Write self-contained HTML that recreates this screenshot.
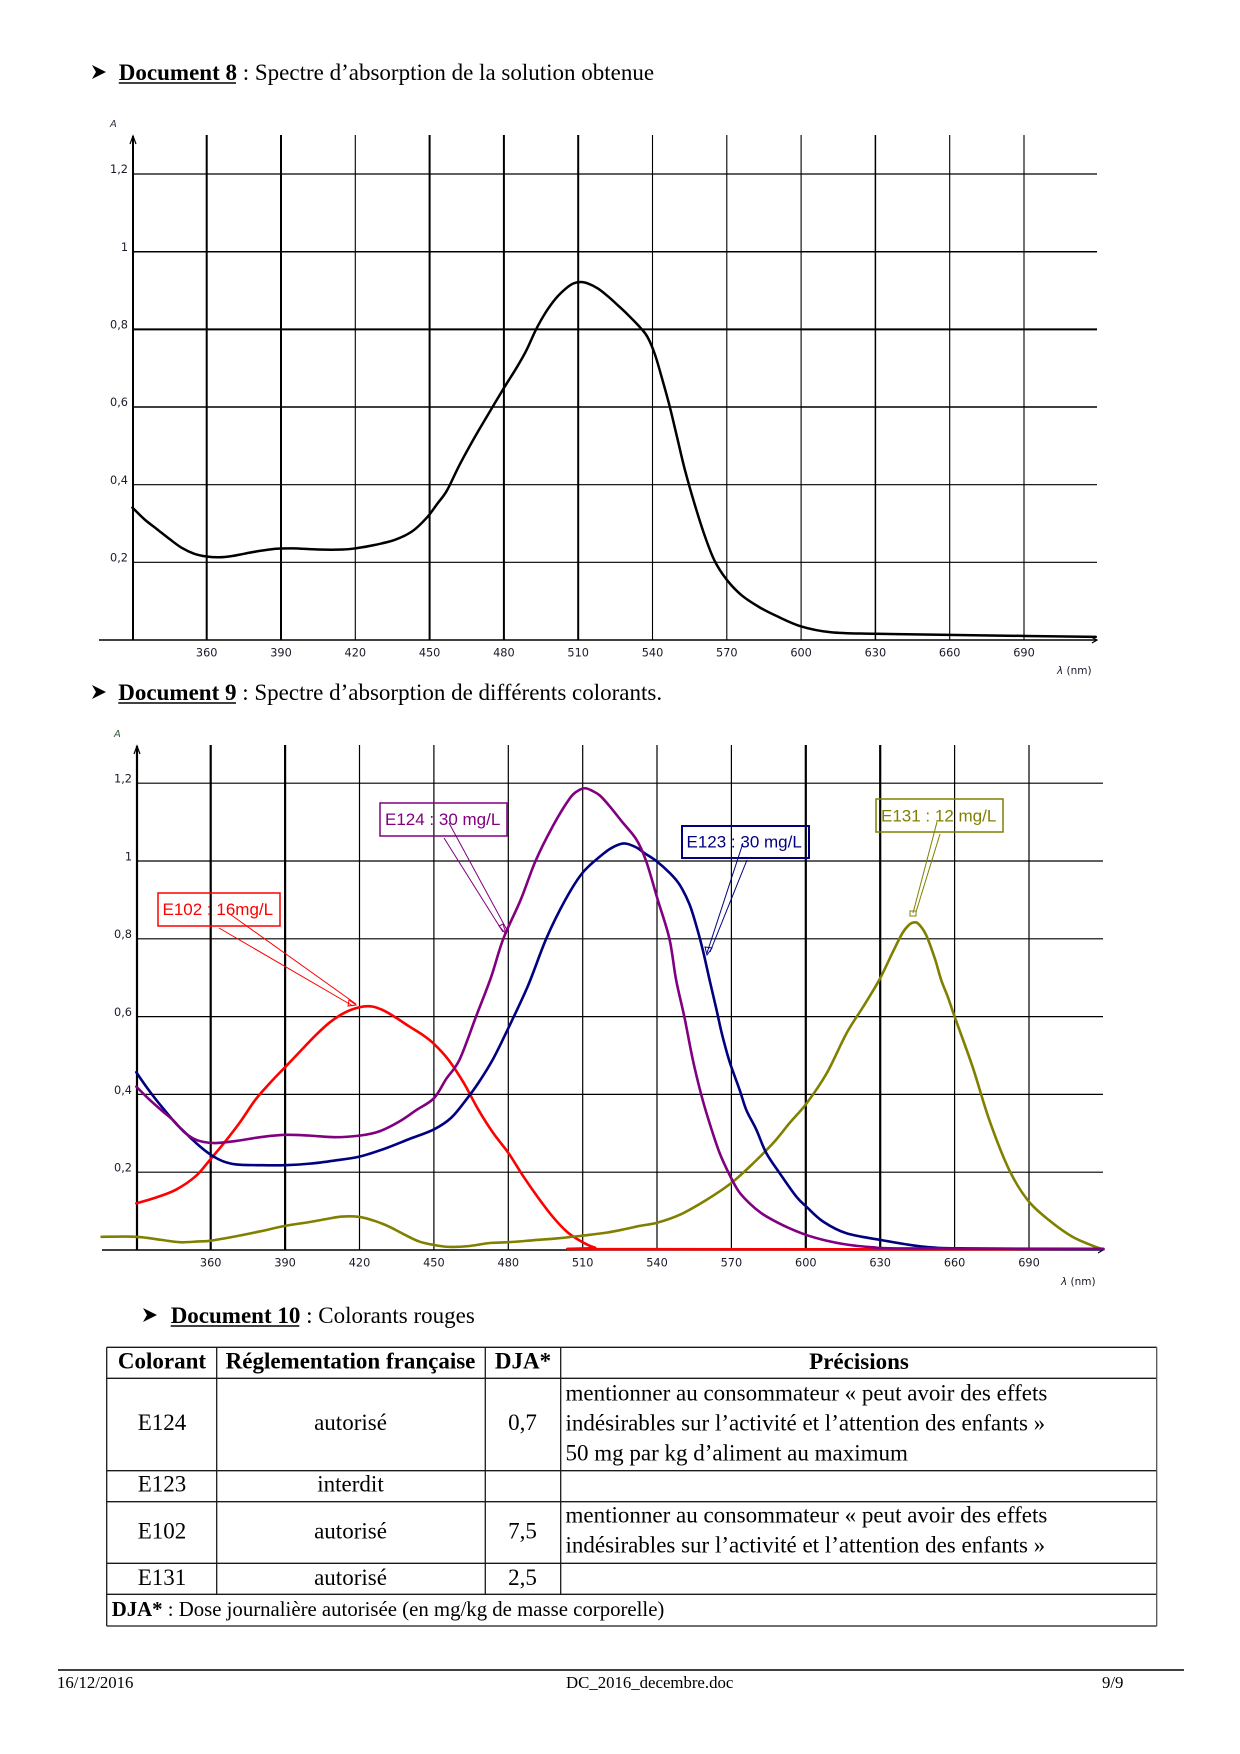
<!DOCTYPE html>
<html><head><meta charset="utf-8"><style>
html,body{margin:0;padding:0;background:#fff;}
svg{display:block;}
.serif{font-family:"Liberation Serif","Times New Roman",serif;}
.tick{font-family:"DejaVu Sans","Liberation Sans",sans-serif;font-size:11.3px;fill:#1a1a2a;}
.lab{font-family:"Liberation Sans",sans-serif;font-size:17px;}
</style></head><body>
<svg width="1240" height="1754" viewBox="0 0 1240 1754" xmlns="http://www.w3.org/2000/svg">
<rect width="1240" height="1754" fill="#fff"/>

<!-- ===== Heading Document 8 ===== -->
<polygon points="92,65 106,72 92,79 96,72" fill="#000"/>
<text class="serif" x="118.8" y="80" font-size="23" fill="#000"><tspan font-weight="bold">Document 8</tspan><tspan> : Spectre d’absorption de la solution obtenue</tspan></text>
<line x1="118.8" y1="83" x2="236" y2="83" stroke="#000" stroke-width="1.5"/>

<!-- ===== Chart 1 ===== -->
<g stroke="#000" fill="none">
  <line x1="133" y1="174" x2="1097" y2="174" stroke-width="1.2"/>
  <line x1="133" y1="251.7" x2="1097" y2="251.7" stroke-width="1.5"/>
  <line x1="133" y1="329.4" x2="1097" y2="329.4" stroke-width="2"/>
  <line x1="133" y1="407" x2="1097" y2="407" stroke-width="1.5"/>
  <line x1="133" y1="484.7" x2="1097" y2="484.7" stroke-width="1.1"/>
  <line x1="133" y1="562.3" x2="1097" y2="562.3" stroke-width="1.1"/>
  <line x1="206.7" y1="135" x2="206.7" y2="640" stroke-width="2"/>
  <line x1="281" y1="135" x2="281" y2="640" stroke-width="2"/>
  <line x1="355.3" y1="135" x2="355.3" y2="640" stroke-width="1.1"/>
  <line x1="429.6" y1="135" x2="429.6" y2="640" stroke-width="2"/>
  <line x1="503.9" y1="135" x2="503.9" y2="640" stroke-width="2"/>
  <line x1="578.2" y1="135" x2="578.2" y2="640" stroke-width="2"/>
  <line x1="652.5" y1="135" x2="652.5" y2="640" stroke-width="1.1"/>
  <line x1="726.8" y1="135" x2="726.8" y2="640" stroke-width="1.1"/>
  <line x1="801.1" y1="135" x2="801.1" y2="640" stroke-width="1.1"/>
  <line x1="875.4" y1="135" x2="875.4" y2="640" stroke-width="1.5"/>
  <line x1="949.7" y1="135" x2="949.7" y2="640" stroke-width="1.1"/>
  <line x1="1024" y1="135" x2="1024" y2="640" stroke-width="1.1"/>
  <line x1="133" y1="136" x2="133" y2="640" stroke-width="2"/>
  <line x1="99" y1="640" x2="1097" y2="640" stroke-width="1.4"/>
  <polyline points="130,144 133,136 136,144" stroke-width="1.2"/>
  <polyline points="1091,637 1097,640 1092,643" stroke-width="1.2"/>
</g>
<text x="110" y="127" font-family="DejaVu Sans,sans-serif" font-size="10" font-style="italic" fill="#334">A</text>
<g class="tick" text-anchor="end">
  <text x="128" y="173">1,2</text>
  <text x="128" y="251">1</text>
  <text x="128" y="328.5">0,8</text>
  <text x="128" y="406">0,6</text>
  <text x="128" y="484">0,4</text>
  <text x="128" y="561.5">0,2</text>
</g>
<g class="tick" text-anchor="middle">
  <text x="206.7" y="656.5">360</text><text x="281" y="656.5">390</text><text x="355.3" y="656.5">420</text>
  <text x="429.6" y="656.5">450</text><text x="503.9" y="656.5">480</text><text x="578.2" y="656.5">510</text>
  <text x="652.5" y="656.5">540</text><text x="726.8" y="656.5">570</text><text x="801.1" y="656.5">600</text>
  <text x="875.4" y="656.5">630</text><text x="949.7" y="656.5">660</text><text x="1024" y="656.5">690</text>
</g>
<text x="1057" y="674" font-family="DejaVu Sans,sans-serif" font-size="10.5" fill="#1a1a2a"><tspan font-style="italic">λ</tspan>  (nm)</text>
<g transform="translate(-684.9,640) scale(2.4767,-388.3)">
<polyline class="sm" vector-effect="non-scaling-stroke" fill="none" stroke="#000" stroke-width="2.5" stroke-linejoin="round" stroke-linecap="round"
points="330,0.341 335,0.31 340,0.285 345,0.26 350,0.237 355,0.222 360,0.215 365,0.213 370,0.216 375,0.222 380,0.228 388,0.235 395,0.236 405,0.233 415,0.233 420,0.236 428,0.245 436,0.258 443,0.28 449,0.316 453,0.35 457,0.385 462,0.45 468,0.52 474,0.585 480,0.649 485,0.70 489,0.745 493,0.80 497,0.845 501,0.88 505,0.905 508,0.918 511,0.922 514,0.918 518,0.905 522,0.885 526,0.862 530,0.838 535,0.805 538,0.78 541,0.735 544,0.67 547,0.6 550,0.52 553,0.44 557,0.35 561,0.27 565,0.205 570,0.155 576,0.115 583,0.085 590,0.062 600,0.035 612,0.02 630,0.016 673,0.012 719,0.008"/>
</g>

<!-- ===== Heading Document 9 ===== -->
<polygon points="92,685 106,692 92,699 96,692" fill="#000"/>
<text class="serif" x="118.3" y="700" font-size="23" fill="#000"><tspan font-weight="bold">Document 9</tspan><tspan> : Spectre d’absorption de différents colorants.</tspan></text>
<line x1="118.3" y1="703" x2="236" y2="703" stroke="#000" stroke-width="1.5"/>

<!-- ===== Chart 2 ===== -->
<g stroke="#000" fill="none">
  <line x1="137" y1="783.2" x2="1103" y2="783.2" stroke-width="1.2"/>
  <line x1="137" y1="861" x2="1103" y2="861" stroke-width="1.2"/>
  <line x1="137" y1="938.8" x2="1103" y2="938.8" stroke-width="1.2"/>
  <line x1="137" y1="1016.6" x2="1103" y2="1016.6" stroke-width="1.2"/>
  <line x1="137" y1="1094.4" x2="1103" y2="1094.4" stroke-width="1.2"/>
  <line x1="137" y1="1172.2" x2="1103" y2="1172.2" stroke-width="1.2"/>
  <line x1="210.7" y1="745" x2="210.7" y2="1250" stroke-width="2.2"/>
  <line x1="285.1" y1="745" x2="285.1" y2="1250" stroke-width="2.2"/>
  <line x1="359.5" y1="745" x2="359.5" y2="1250" stroke-width="1.2"/>
  <line x1="433.9" y1="745" x2="433.9" y2="1250" stroke-width="1.2"/>
  <line x1="508.3" y1="745" x2="508.3" y2="1250" stroke-width="1.2"/>
  <line x1="582.7" y1="745" x2="582.7" y2="1250" stroke-width="1.2"/>
  <line x1="657" y1="745" x2="657" y2="1250" stroke-width="1.2"/>
  <line x1="731.4" y1="745" x2="731.4" y2="1250" stroke-width="1.2"/>
  <line x1="805.8" y1="745" x2="805.8" y2="1250" stroke-width="2.2"/>
  <line x1="880.2" y1="745" x2="880.2" y2="1250" stroke-width="2.2"/>
  <line x1="954.6" y1="745" x2="954.6" y2="1250" stroke-width="1.2"/>
  <line x1="1029" y1="745" x2="1029" y2="1250" stroke-width="1.2"/>
  <line x1="137" y1="746" x2="137" y2="1250" stroke-width="2.2"/>
  <line x1="102" y1="1250" x2="1103" y2="1250" stroke-width="1.4"/>
  <polyline points="134,754 137,746 140,754" stroke-width="1.2"/>
  <polyline points="1097,1247 1103,1250 1098,1253" stroke-width="1.2"/>
</g>
<text x="114" y="737" font-family="DejaVu Sans,sans-serif" font-size="10" font-style="italic" fill="#2a5a3a">A</text>
<g class="tick" text-anchor="end">
  <text x="132" y="782.5">1,2</text>
  <text x="132" y="860.5">1</text>
  <text x="132" y="938">0,8</text>
  <text x="132" y="1016">0,6</text>
  <text x="132" y="1094">0,4</text>
  <text x="132" y="1171.5">0,2</text>
</g>
<g class="tick" text-anchor="middle">
  <text x="210.7" y="1266.5">360</text><text x="285.1" y="1266.5">390</text><text x="359.5" y="1266.5">420</text>
  <text x="433.9" y="1266.5">450</text><text x="508.3" y="1266.5">480</text><text x="582.7" y="1266.5">510</text>
  <text x="657" y="1266.5">540</text><text x="731.4" y="1266.5">570</text><text x="805.8" y="1266.5">600</text>
  <text x="880.2" y="1266.5">630</text><text x="954.6" y="1266.5">660</text><text x="1029" y="1266.5">690</text>
</g>
<text x="1061" y="1285" font-family="DejaVu Sans,sans-serif" font-size="10.5" fill="#1a1a2a"><tspan font-style="italic">λ</tspan>  (nm)</text>

<g transform="translate(-682,1250) scale(2.4797,-389)" fill="none" stroke-width="2.6" stroke-linejoin="round" stroke-linecap="round">
<polyline class="sm" vector-effect="non-scaling-stroke" stroke="#ff0000"
points="330,0.12 338,0.135 346,0.155 354,0.19 360,0.234 366,0.28 372,0.33 378,0.386 384,0.43 390,0.47 396,0.51 402,0.55 408,0.585 414,0.61 420,0.624 425,0.626 430,0.615 435,0.596 440,0.575 445,0.555 450,0.53 456,0.488 462,0.43 468,0.36 474,0.30 480,0.25 486,0.19 492,0.135 498,0.085 504,0.045 510,0.02 515,0.006 520,0.002 720,0.002"/>
<polyline class="sm" vector-effect="non-scaling-stroke" stroke="#808000"
points="316,0.034 330,0.034 340,0.026 347.5,0.02 355,0.022 360,0.024 370,0.035 380,0.048 390,0.062 400,0.072 407,0.08 413,0.086 420,0.085 426,0.075 432,0.06 438,0.04 444,0.022 450,0.013 456,0.008 464,0.01 472.5,0.018 480,0.02 490,0.025 500,0.03 510,0.037 520,0.045 528,0.055 533,0.062 540,0.07 549,0.09 559.7,0.128 569.5,0.17 577.3,0.214 586.7,0.274 593.4,0.326 600.3,0.377 608.4,0.454 616.4,0.557 623.1,0.625 629.6,0.694 635,0.765 639,0.815 641.5,0.835 643.5,0.842 645.5,0.838 648.5,0.81 652,0.75 654.6,0.694 657.3,0.65 660,0.60 667.3,0.47 674,0.334 682,0.206 689.5,0.128 698,0.077 707.5,0.034 716.7,0.0085 720,0.002"/>
<polyline class="sm" vector-effect="non-scaling-stroke" stroke="#000080"
points="330,0.457 334,0.42 338,0.386 342,0.355 346,0.325 350,0.30 355,0.27 360,0.245 365,0.228 370.3,0.22 380,0.218 390,0.218 400,0.222 410,0.23 420,0.24 430,0.26 440,0.285 450,0.31 457,0.34 463,0.386 468,0.43 473.8,0.49 480,0.57 488,0.68 495.3,0.80 503,0.90 510,0.97 518.6,1.02 523,1.038 527,1.045 531.6,1.035 535,1.02 539.7,1.0 545,0.97 549,0.94 553,0.89 556,0.83 558.5,0.77 561.2,0.694 563.9,0.62 566,0.56 568.5,0.50 570,0.47 573.4,0.41 576,0.36 580,0.31 584,0.25 589.5,0.197 596.2,0.137 600.3,0.111 607,0.073 616.4,0.043 630,0.026 647.5,0.0085 665,0.004 720,0.002"/>
<polyline class="sm" vector-effect="non-scaling-stroke" stroke="#800080"
points="330,0.42 335.4,0.386 340,0.36 344.8,0.334 349,0.305 352.9,0.287 357,0.278 362,0.275 370,0.28 380,0.29 390,0.296 400,0.294 410,0.29 420,0.294 428,0.305 436,0.33 443,0.36 450,0.39 455,0.44 460.4,0.49 467,0.60 473,0.70 478,0.80 485,0.90 491,1.0 498,1.09 504.7,1.16 508,1.18 511,1.187 514,1.18 517,1.168 521,1.14 526,1.10 531.6,1.056 535.6,1.0 540.3,0.90 545,0.80 547.7,0.694 551,0.60 554.4,0.49 557.8,0.40 561,0.33 565.2,0.25 569.5,0.19 573,0.15 577.3,0.12 582,0.095 586.7,0.077 593,0.057 600,0.039 607,0.026 613.6,0.017 620,0.011 627,0.007 640,0.004 720,0.003"/>
</g>

<!-- annotations -->
<g fill="none" stroke-width="1">
  <line x1="227" y1="912" x2="356" y2="1004" stroke="#ff0000"/>
  <line x1="219" y1="928" x2="353" y2="1006" stroke="#ff0000"/>
  <polygon points="349,1000 356,1005 348,1006" stroke="#ff0000"/>
  <line x1="449" y1="823" x2="507" y2="930" stroke="#800080"/>
  <line x1="444" y1="838" x2="503" y2="932" stroke="#800080"/>
  <polygon points="499,926 506,934 503,924" stroke="#800080"/>
  <line x1="743" y1="843" x2="707" y2="953" stroke="#000080"/>
  <line x1="747" y1="860" x2="710" y2="952" stroke="#000080"/>
  <polygon points="705,947 707,955 712,948" stroke="#000080"/>
  <line x1="937" y1="822" x2="913" y2="913" stroke="#808000"/>
  <line x1="940" y1="834" x2="916" y2="912" stroke="#808000"/>
  <rect x="910" y="911" width="6" height="5" stroke="#808000"/>
</g>
<rect x="158" y="893" width="122" height="33" fill="none" stroke="#ff0000" stroke-width="1.5"/>
<text class="lab" x="162.5" y="915" fill="#ff0000">E102 : 16mg/L</text>
<rect x="380" y="803" width="127" height="33" fill="none" stroke="#800080" stroke-width="1.5"/>
<text class="lab" x="385" y="825" fill="#800080">E124 : 30 mg/L</text>
<rect x="682" y="826" width="127" height="32" fill="none" stroke="#000080" stroke-width="2"/>
<text class="lab" x="686.5" y="847.5" fill="#000080">E123 : 30 mg/L</text>
<rect x="876" y="799" width="127" height="33" fill="none" stroke="#808000" stroke-width="1.5"/>
<text class="lab" x="881" y="821.5" fill="#808000">E131 : 12 mg/L</text>

<!-- ===== Heading Document 10 ===== -->
<polygon points="143,1308 157,1315 143,1322 147,1315" fill="#000"/>
<text class="serif" x="170.7" y="1323" font-size="23" fill="#000"><tspan font-weight="bold">Document 10</tspan><tspan> : Colorants rouges</tspan></text>
<line x1="170.7" y1="1326" x2="299.3" y2="1326" stroke="#000" stroke-width="1.5"/>

<!-- ===== Table ===== -->
<g stroke="#1a1a1a" stroke-width="1.3" fill="none">
  <line x1="106.7" y1="1347.3" x2="1156.7" y2="1347.3"/>
  <line x1="106.7" y1="1378.3" x2="1156.7" y2="1378.3"/>
  <line x1="106.7" y1="1470.7" x2="1156.7" y2="1470.7"/>
  <line x1="106.7" y1="1501.7" x2="1156.7" y2="1501.7"/>
  <line x1="106.7" y1="1563.3" x2="1156.7" y2="1563.3"/>
  <line x1="106.7" y1="1594.3" x2="1156.7" y2="1594.3"/>
  <line x1="106.7" y1="1626" x2="1156.7" y2="1626"/>
  <line x1="106.7" y1="1347.3" x2="106.7" y2="1626"/>
  <line x1="216.7" y1="1347.3" x2="216.7" y2="1594.3"/>
  <line x1="485.3" y1="1347.3" x2="485.3" y2="1594.3"/>
  <line x1="560.7" y1="1347.3" x2="560.7" y2="1594.3"/>
  <line x1="1156.7" y1="1347.3" x2="1156.7" y2="1626" stroke="#555"/>
</g>
<g class="serif" font-size="23" fill="#000">
  <g font-weight="bold" text-anchor="middle">
    <text x="162" y="1368.5">Colorant</text>
    <text x="350.5" y="1368.5">Réglementation française</text>
    <text x="523" y="1368.5">DJA*</text>
    <text x="859" y="1369">Précisions</text>
  </g>
  <g text-anchor="middle">
    <text x="162" y="1430">E124</text>
    <text x="350.5" y="1430">autorisé</text>
    <text x="522.5" y="1430">0,7</text>
    <text x="162" y="1491.7">E123</text>
    <text x="350.5" y="1491.7">interdit</text>
    <text x="162" y="1538.3">E102</text>
    <text x="350.5" y="1538.3">autorisé</text>
    <text x="522.5" y="1538.3">7,5</text>
    <text x="162" y="1585">E131</text>
    <text x="350.5" y="1585">autorisé</text>
    <text x="522.5" y="1585">2,5</text>
  </g>
  <text x="565.5" y="1400.5">mentionner au consommateur « peut avoir des effets</text>
  <text x="565.5" y="1430.5">indésirables sur l’activité et l’attention des enfants »</text>
  <text x="565.5" y="1460.5">50 mg par kg d’aliment au maximum</text>
  <text x="565.5" y="1522.5">mentionner au consommateur « peut avoir des effets</text>
  <text x="565.5" y="1552.5">indésirables sur l’activité et l’attention des enfants »</text>
  <text x="111.7" y="1616" font-size="20.8"><tspan font-weight="bold">DJA*</tspan><tspan> : Dose journalière autorisée (en mg/kg de masse corporelle)</tspan></text>
</g>

<!-- ===== Footer ===== -->
<line x1="58" y1="1670" x2="1184" y2="1670" stroke="#000" stroke-width="1.6"/>
<g class="serif" font-size="16.8" fill="#000">
  <text x="57" y="1688">16/12/2016</text>
  <text x="566" y="1688">DC_2016_decembre.doc</text>
  <text x="1102" y="1688">9/9</text>
</g>
</svg>
<script>
(function(){
  var NS="http://www.w3.org/2000/svg";
  var pls=document.querySelectorAll("polyline.sm");
  for(var k=0;k<pls.length;k++){
    var pl=pls[k];
    var raw=pl.getAttribute("points").trim().split(/\s+/);
    var p=[];
    for(var i=0;i<raw.length;i++){var c=raw[i].split(",");p.push([parseFloat(c[0]),parseFloat(c[1])]);}
    if(p.length<3) continue;
    var d="M"+p[0][0]+","+p[0][1];
    for(var i=0;i<p.length-1;i++){
      var p0=p[i>0?i-1:i],p1=p[i],p2=p[i+1],p3=p[i+2<p.length?i+2:i+1];
      var c1x=p1[0]+(p2[0]-p0[0])/6,c1y=p1[1]+(p2[1]-p0[1])/6;
      var c2x=p2[0]-(p3[0]-p1[0])/6,c2y=p2[1]-(p3[1]-p1[1])/6;
      d+=" C"+c1x.toFixed(3)+","+c1y.toFixed(4)+" "+c2x.toFixed(3)+","+c2y.toFixed(4)+" "+p2[0]+","+p2[1];
    }
    var path=document.createElementNS(NS,"path");
    for(var a=0;a<pl.attributes.length;a++){
      var at=pl.attributes[a];
      if(at.name!=="points") path.setAttribute(at.name,at.value);
    }
    path.setAttribute("d",d);
    pl.parentNode.replaceChild(path,pl);
  }
})();
</script>
</body></html>
